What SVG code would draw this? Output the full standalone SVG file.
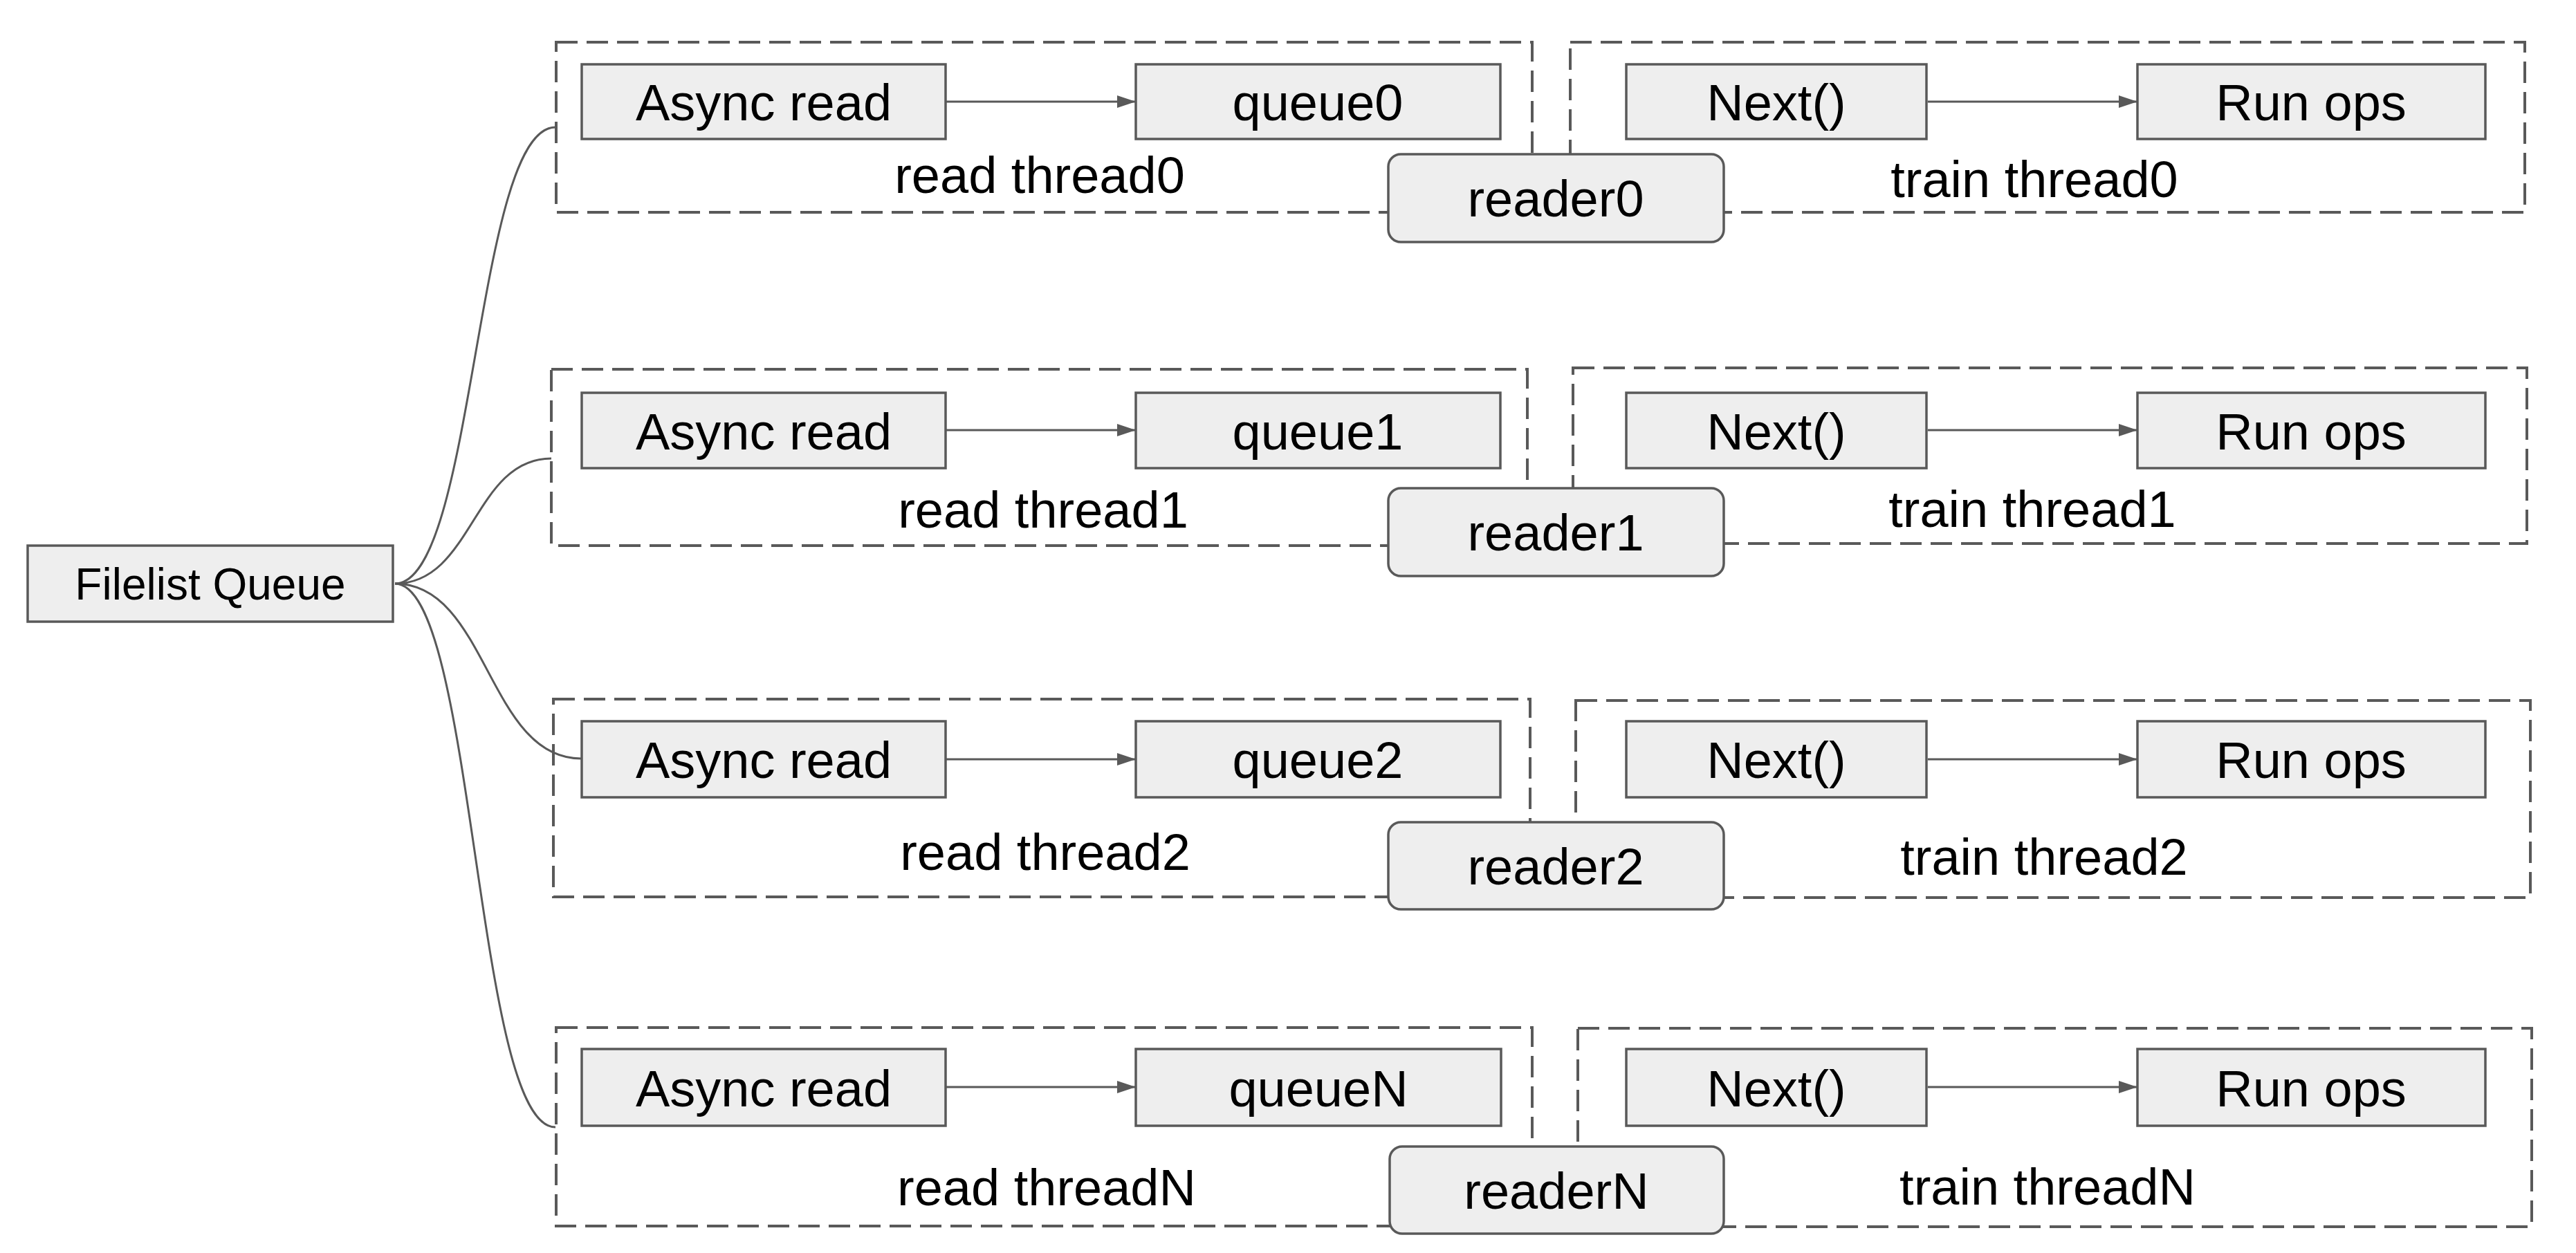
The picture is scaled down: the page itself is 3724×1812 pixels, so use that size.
<svg xmlns="http://www.w3.org/2000/svg" width="3724" height="1812" viewBox="0 0 3724 1812">
<style>
.bg{fill:#ffffff}
.box{fill:#eeeeee;stroke:#595959;stroke-width:3.5}
.grp{fill:none;stroke:#595959;stroke-width:4;stroke-dasharray:31 13}
.t{font-family:"Liberation Sans",Arial,sans-serif;font-size:74px;fill:#000000;text-anchor:middle}
.tq{font-family:"Liberation Sans",Arial,sans-serif;font-size:64px;fill:#000000;text-anchor:middle}
.edge{fill:none;stroke:#595959;stroke-width:3}
</style>
<defs>
<marker id="ah" markerUnits="userSpaceOnUse" markerWidth="28" markerHeight="18" refX="27" refY="9" orient="auto">
<path d="M0,0 L27,9 L0,18 Z" fill="#595959"/>
</marker>
</defs>
<rect class="bg" x="0" y="0" width="3724" height="1812"/>

<g id="groups">
<rect id="read-thread0" class="grp" x="804" y="61" width="1411" height="246"/>
<rect id="train-thread0" class="grp" x="2270" y="61" width="1380" height="246"/>
<rect id="read-thread1" class="grp" x="797" y="534" width="1411" height="255"/>
<rect id="train-thread1" class="grp" x="2274" y="532" width="1379" height="254"/>
<rect id="read-thread2" class="grp" x="800" y="1011" width="1412" height="286"/>
<rect id="train-thread2" class="grp" x="2278" y="1013" width="1380" height="285"/>
<rect id="read-threadN" class="grp" x="804" y="1486" width="1411" height="287"/>
<rect id="train-threadN" class="grp" x="2281" y="1487" width="1379" height="287"/>
<text class="t" x="1503" y="279">read thread0</text>
<text class="t" x="2941" y="285">train thread0</text>
<text class="t" x="1508" y="763">read thread1</text>
<text class="t" x="2938" y="762">train thread1</text>
<text class="t" x="1511" y="1258">read thread2</text>
<text class="t" x="2955" y="1265">train thread2</text>
<text class="t" x="1513" y="1743">read threadN</text>
<text class="t" x="2960" y="1742">train threadN</text>
</g>

<g id="connectors">
<path class="edge" d="M571,844 C687,844 687,184 803,184"/>
<path class="edge" d="M571,844 C684,844 684,663 797,663"/>
<path class="edge" d="M571,844 C705,844 705,1097 840,1097"/>
<path class="edge" d="M571,844 C687,844 687,1630 803,1630"/>
<line class="edge" x1="1367" y1="147" x2="1642" y2="147" marker-end="url(#ah)"/>
<line class="edge" x1="2787" y1="147" x2="3090" y2="147" marker-end="url(#ah)"/>
<line class="edge" x1="1367" y1="622" x2="1642" y2="622" marker-end="url(#ah)"/>
<line class="edge" x1="2787" y1="622" x2="3090" y2="622" marker-end="url(#ah)"/>
<line class="edge" x1="1367" y1="1098" x2="1642" y2="1098" marker-end="url(#ah)"/>
<line class="edge" x1="2787" y1="1098" x2="3090" y2="1098" marker-end="url(#ah)"/>
<line class="edge" x1="1367" y1="1572" x2="1642" y2="1572" marker-end="url(#ah)"/>
<line class="edge" x1="2787" y1="1572" x2="3090" y2="1572" marker-end="url(#ah)"/>
</g>

<g id="filelist-queue">
<rect class="box" x="40" y="789" width="528" height="110"/>
<text class="tq" x="304" y="867">Filelist Queue</text>
</g>

<g id="async-read0"><rect class="box" x="841" y="93" width="526" height="108"/><text class="t" x="1104" y="174">Async read</text></g>
<g id="queue0"><rect class="box" x="1642" y="93" width="527" height="108"/><text class="t" x="1905" y="174">queue0</text></g>
<g id="next0"><rect class="box" x="2351" y="93" width="434" height="108"/><text class="t" x="2568" y="174">Next()</text></g>
<g id="runops0"><rect class="box" x="3090" y="93" width="503" height="108"/><text class="t" x="3341" y="174">Run ops</text></g>
<g id="reader0"><rect class="box" x="2007" y="223" width="485" height="127" rx="18"/><text class="t" x="2249" y="313">reader0</text></g>

<g id="async-read1"><rect class="box" x="841" y="568" width="526" height="109"/><text class="t" x="1104" y="650">Async read</text></g>
<g id="queue1"><rect class="box" x="1642" y="568" width="527" height="109"/><text class="t" x="1905" y="650">queue1</text></g>
<g id="next1"><rect class="box" x="2351" y="568" width="434" height="109"/><text class="t" x="2568" y="650">Next()</text></g>
<g id="runops1"><rect class="box" x="3090" y="568" width="503" height="109"/><text class="t" x="3341" y="650">Run ops</text></g>
<g id="reader1"><rect class="box" x="2007" y="706" width="485" height="127" rx="18"/><text class="t" x="2249" y="796">reader1</text></g>

<g id="async-read2"><rect class="box" x="841" y="1043" width="526" height="110"/><text class="t" x="1104" y="1125">Async read</text></g>
<g id="queue2"><rect class="box" x="1642" y="1043" width="527" height="110"/><text class="t" x="1905" y="1125">queue2</text></g>
<g id="next2"><rect class="box" x="2351" y="1043" width="434" height="110"/><text class="t" x="2568" y="1125">Next()</text></g>
<g id="runops2"><rect class="box" x="3090" y="1043" width="503" height="110"/><text class="t" x="3341" y="1125">Run ops</text></g>
<g id="reader2"><rect class="box" x="2007" y="1189" width="485" height="126" rx="18"/><text class="t" x="2249" y="1279">reader2</text></g>

<g id="async-readN"><rect class="box" x="841" y="1517" width="526" height="111"/><text class="t" x="1104" y="1600">Async read</text></g>
<g id="queueN"><rect class="box" x="1642" y="1517" width="528" height="111"/><text class="t" x="1906" y="1600">queueN</text></g>
<g id="nextN"><rect class="box" x="2351" y="1517" width="434" height="111"/><text class="t" x="2568" y="1600">Next()</text></g>
<g id="runopsN"><rect class="box" x="3090" y="1517" width="503" height="111"/><text class="t" x="3341" y="1600">Run ops</text></g>
<g id="readerN"><rect class="box" x="2009" y="1658" width="483" height="126" rx="18"/><text class="t" x="2250" y="1748">readerN</text></g>
</svg>
